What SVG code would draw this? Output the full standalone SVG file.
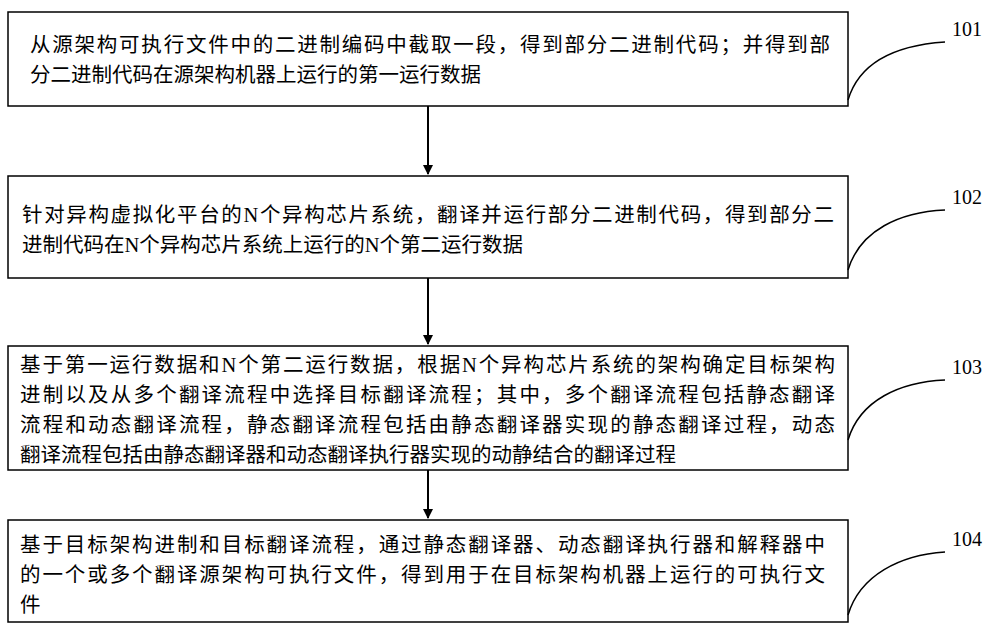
<svg xmlns="http://www.w3.org/2000/svg" width="1000" height="630" viewBox="0 0 1000 630">
<style>
.b{fill:#fff;stroke:#000;stroke-width:1.5}
.t{font-family:"Liberation Serif","Noto Sans CJK SC",serif;font-size:20.5px;fill:#000}
.n{font-family:"Liberation Serif",serif;font-size:20px;fill:#000}
.c{fill:none;stroke:#000;stroke-width:1.5}
</style>
<defs><marker id="a" markerWidth="10" markerHeight="10" refX="9" refY="5" orient="auto" markerUnits="userSpaceOnUse"><path d="M0,0 L10,5 L0,10 Z"/></marker></defs>
<rect width="1000" height="630" fill="#fff"/>
<g id="n101"><rect class="b" x="8" y="12" width="840" height="94"/>
<text class="t" x="30" y="52" textLength="800" lengthAdjust="spacing">从源架构可执行文件中的二进制编码中截取一段，得到部分二进制代码；并得到部</text>
<text class="t" x="30" y="82">分二进制代码在源架构机器上运行的第一运行数据</text>
<path class="c" d="M848,100 C860,60 900,45 945,42"/><text class="n" x="952" y="36">101</text></g>
<g id="n102"><rect class="b" x="8" y="176" width="840" height="102"/>
<text class="t" x="22" y="222" textLength="812" lengthAdjust="spacing">针对异构虚拟化平台的N个异构芯片系统，翻译并运行部分二进制代码，得到部分二</text>
<text class="t" x="22" y="252">进制代码在N个异构芯片系统上运行的N个第二运行数据</text>
<path class="c" d="M848,270 C860,230 900,212 945,210"/><text class="n" x="952" y="204">102</text></g>
<g id="n103"><rect class="b" x="8" y="346" width="840" height="124"/>
<text class="t" x="20" y="372" textLength="815" lengthAdjust="spacing">基于第一运行数据和N个第二运行数据，根据N个异构芯片系统的架构确定目标架构</text>
<text class="t" x="20" y="402" textLength="815" lengthAdjust="spacing">进制以及从多个翻译流程中选择目标翻译流程；其中，多个翻译流程包括静态翻译</text>
<text class="t" x="20" y="432" textLength="815" lengthAdjust="spacing">流程和动态翻译流程，静态翻译流程包括由静态翻译器实现的静态翻译过程，动态</text>
<text class="t" x="20" y="462">翻译流程包括由静态翻译器和动态翻译执行器实现的动静结合的翻译过程</text>
<path class="c" d="M848,440 C860,400 900,382 945,380"/><text class="n" x="952" y="374">103</text></g>
<g id="n104"><rect class="b" x="8" y="520" width="840" height="102"/>
<text class="t" x="20" y="552" textLength="805" lengthAdjust="spacing">基于目标架构进制和目标翻译流程，通过静态翻译器、动态翻译执行器和解释器中</text>
<text class="t" x="20" y="582" textLength="805" lengthAdjust="spacing">的一个或多个翻译源架构可执行文件，得到用于在目标架构机器上运行的可执行文</text>
<text class="t" x="20" y="612">件</text>
<path class="c" d="M848,615 C860,575 900,555 945,552"/><text class="n" x="952" y="546">104</text></g>
<g id="connectors" stroke="#000" stroke-width="2">
<line x1="428" y1="106" x2="428" y2="174" marker-end="url(#a)"/>
<line x1="428" y1="278" x2="428" y2="344" marker-end="url(#a)"/>
<line x1="428" y1="470" x2="428" y2="518" marker-end="url(#a)"/>
</g>
</svg>
